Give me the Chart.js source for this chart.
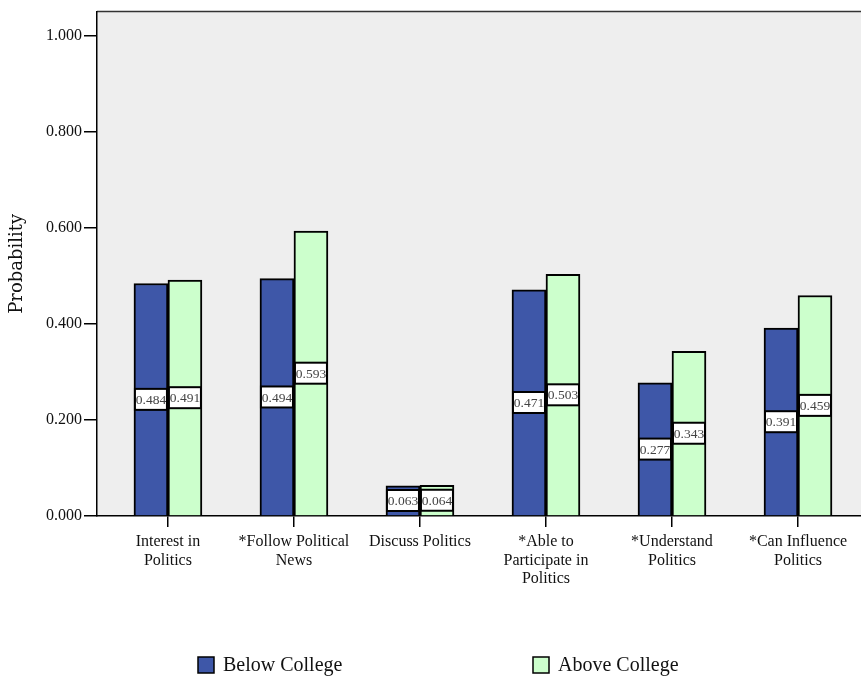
<!DOCTYPE html>
<html lang="en">
<head>
	<meta charset="UTF-8">
	<title>Probability by education</title>
	<script src="https://cdn.jsdelivr.net/npm/chart.js@4"></script>
	<style>
		body,html{padding:0;margin:0;background:#fff;}
		#wrap{width:861px;height:682px;}
	</style>
</head>
<body>
	<div id="wrap"><canvas id="myChart" width="861" height="682"></canvas></div>
	<script>
		var categories = [
			['Interest in','Politics'],
			['*Follow Political','News'],
			['Discuss Politics'],
			['*Able to','Participate in','Politics'],
			['*Understand','Politics'],
			['*Can Influence','Politics']
		];
		var belowCollege = [0.484,0.494,0.063,0.471,0.277,0.391];
		var aboveCollege = [0.491,0.593,0.064,0.503,0.343,0.459];
		var yTicks = [0,0.2,0.4,0.6,0.8,1.0];
		var seriesNames = ['Below College','Above College'];
		var seriesColors = ['#3e57a8','#ccffcc'];

		function toPoints(arr){
			return arr.map(function(v,i){ return {x:i,y:v}; });
		}

		// grey plot background + top border
		var plotBack = {
			id:'plotBack',
			beforeDraw:function(chart){
				var c = chart.ctx, a = chart.chartArea;
				c.save();
				c.fillStyle = '#fff';
				c.fillRect(0,0,chart.width,chart.height);
				c.fillStyle = '#eeeeee';
				c.fillRect(a.left,a.top,a.right-a.left,a.bottom-a.top);
				c.strokeStyle = '#333';
				c.lineWidth = 1.5;
				c.beginPath();
				c.moveTo(a.left,a.top);
				c.lineTo(a.right,a.top);
				c.stroke();
				c.restore();
			}
		};

		// value boxes in the middle of each bar
		var valueBoxes = {
			id:'valueBoxes',
			afterDatasetsDraw:function(chart){
				var c = chart.ctx;
				c.save();
				c.font = '13.5px "Liberation Serif"';
				c.textAlign = 'center';
				c.textBaseline = 'middle';
				chart.data.datasets.forEach(function(ds,di){
					chart.getDatasetMeta(di).data.forEach(function(el,i){
						var mid = (el.y+el.base)/2;
						var w = el.width-2, h = 21;
						c.fillStyle = '#fff';
						c.fillRect(el.x-w/2,mid-h/2,w,h);
						c.strokeStyle = '#000';
						c.lineWidth = 2;
						c.strokeRect(el.x-w/2,mid-h/2,w,h);
						c.fillStyle = '#444';
						c.fillText(ds.data[i].y.toFixed(3),el.x,mid+1);
					});
				});
				c.restore();
			}
		};

		// legend at the bottom, two items spread apart
		var bottomLegend = {
			id:'bottomLegend',
			afterDraw:function(chart){
				var c = chart.ctx, a = chart.chartArea;
				c.save();
				c.font = '20px "Liberation Serif"';
				c.textBaseline = 'middle';
				chart.data.datasets.forEach(function(ds,di){
					var x = a.left+101+di*335, y = 665;
					c.fillStyle = ds.backgroundColor;
					c.fillRect(x,y-8,16,16);
					c.strokeStyle = '#000';
					c.lineWidth = 1.5;
					c.strokeRect(x,y-8,16,16);
					c.fillStyle = '#111';
					c.fillText(ds.label,x+25,y+1);
				});
				c.restore();
			}
		};

		var ctx = document.getElementById('myChart').getContext('2d');
		var chart = new Chart(ctx,{
			type:'bar',
			data:{
				datasets:[{
					label:seriesNames[0],
					data:toPoints(belowCollege),
					backgroundColor:seriesColors[0],
					borderColor:'#000',
					borderWidth:2,
					barThickness:34
				},{
					label:seriesNames[1],
					data:toPoints(aboveCollege),
					backgroundColor:seriesColors[1],
					borderColor:'#000',
					borderWidth:2,
					barThickness:34
				}]
			},
			options:{
				responsive:false,
				animation:false,
				layout:{padding:{top:9,right:0,bottom:0,left:0}},
				plugins:{
					legend:{display:false},
					tooltip:{enabled:false}
				},
				scales:{
					x:{
						type:'linear',
						offset:false,
						min:-0.563,
						max:5.5,
						afterBuildTicks:function(s){
							s.ticks = categories.map(function(c,i){ return {value:i}; });
						},
						afterFit:function(s){ s.height = 166; },
						grid:{offset:false,drawOnChartArea:false,drawTicks:true,tickLength:11,color:'#000',lineWidth:1.5},
						border:{display:true,color:'#000',width:1.5},
						ticks:{
							padding:6,
							maxRotation:0,
							autoSkip:false,
							color:'#111',
							font:{family:'Liberation Serif',size:16,lineHeight:1.15},
							callback:function(v){ return categories[v]; }
						}
					},
					y:{
						min:0,
						max:1.05,
						afterBuildTicks:function(s){
							s.ticks = yTicks.map(function(v){ return {value:v}; });
						},
						afterFit:function(s){ s.width = 97; },
						grid:{drawOnChartArea:false,drawTicks:true,tickLength:13,color:'#000',lineWidth:1.5},
						border:{display:true,color:'#000',width:1.5},
						ticks:{
							padding:2,
							color:'#111',
							font:{family:'Liberation Serif',size:16},
							callback:function(v){ return v.toFixed(3); }
						},
						title:{
							display:true,
							text:'Probability',
							color:'#111',
							padding:{top:7,bottom:0},
							font:{family:'DejaVu Serif',size:18}
						}
					}
				}
			},
			plugins:[plotBack,valueBoxes,bottomLegend]
		});
	</script>
</body>
</html>
